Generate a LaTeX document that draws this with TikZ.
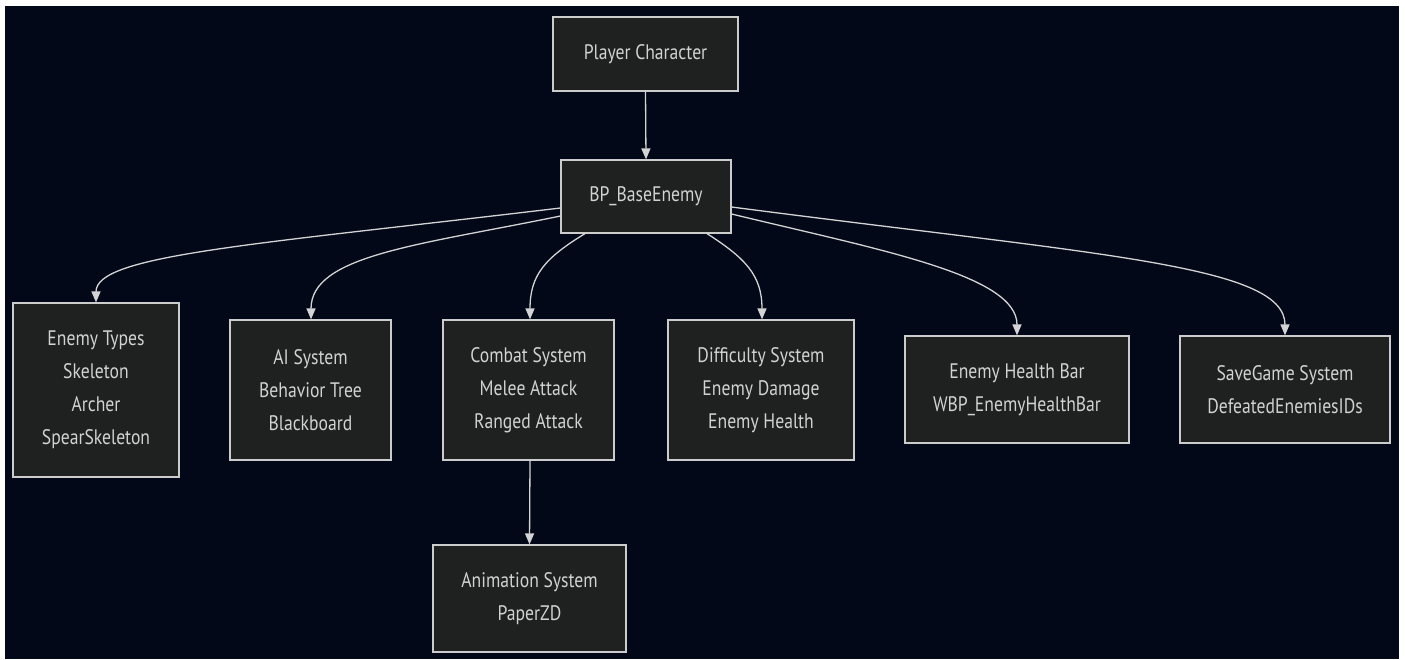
\documentclass[tikz,border=0pt]{standalone}
\usepackage{fontspec}
\setmainfont{PT Sans}[FakeStretch=0.84]
\usetikzlibrary{arrows.meta}
\definecolor{bgc}{RGB}{2,8,23}
\definecolor{nodefill}{RGB}{31,32,32}
\definecolor{nodeline}{RGB}{204,204,204}
\definecolor{txt}{RGB}{210,210,210}
\definecolor{edgec}{RGB}{211,211,211}
\tikzset{
  box/.style={draw=nodeline, line width=1.2pt, fill=nodefill, text=txt, align=center,
    inner sep=0pt, font=\fontsize{21}{33}\selectfont},
  link/.style={draw=edgec, line width=1.3pt, -{Triangle[length=11pt,width=9pt]}},
}
\begin{document}
\begin{tikzpicture}[x=1pt,y=-1pt]
\useasboundingbox (0,0) rectangle (1405,659);
\fill[white] (0,0) rectangle (1405,659);
\fill[bgc] (5,6) rectangle (1399,659);

\node[box, minimum width=185pt, minimum height=74pt] (pc) at (645.5,54) {\raisebox{-2pt}{Player Character}};
\node[box, minimum width=170pt, minimum height=73pt] (bp) at (646,196.5) {\raisebox{-2pt}{BP\_BaseEnemy}};
\node[box, minimum width=166pt, minimum height=174pt] (et) at (96,390) {Enemy Types\\Skeleton\\Archer\\SpearSkeleton};
\node[box, minimum width=161pt, minimum height=140pt] (ai) at (310.5,390) {AI System\\Behavior Tree\\Blackboard};
\node[box, minimum width=171pt, minimum height=140pt] (cs) at (528.5,390) {Combat System\\Melee Attack\\Ranged Attack};
\node[box, minimum width=186pt, minimum height=140pt] (ds) at (761,390) {Difficulty System\\Enemy Damage\\Enemy Health};
\node[box, minimum width=224pt, minimum height=107pt] (hb) at (1017,389.5) {Enemy Health Bar\\WBP\_EnemyHealthBar};
\node[box, minimum width=210pt, minimum height=107pt] (sg) at (1285,389.5) {SaveGame System\\DefeatedEnemiesIDs};
\node[box, minimum width=193pt, minimum height=107pt] (an) at (529.5,598.5) {Animation System\\PaperZD};

\draw[link] (pc.south) -- (bp.north);
\draw[link] ([yshift=-11.5pt]bp.west) .. controls (250,245) and (96,255) .. (et.north);
\draw[link] ([yshift=-19.5pt]bp.west) .. controls (420,245) and (311,255) .. ([xshift=0.5pt]ai.north);
\draw[link] ([xshift=-61pt]bp.south) .. controls (545,258) and (530,275) .. ([xshift=1.5pt]cs.north);
\draw[link] ([xshift=61pt]bp.south) .. controls (745,258) and (762,275) .. ([xshift=1pt]ds.north);
\draw[link] ([yshift=-17.5pt]bp.east) .. controls (880,250) and (1017,275) .. (hb.north);
\draw[link] ([yshift=-10.5pt]bp.east) .. controls (1100,255) and (1285,265) .. (sg.north);
\draw[link] ([xshift=1.5pt]cs.south) -- (an.north);
\end{tikzpicture}
\end{document}
